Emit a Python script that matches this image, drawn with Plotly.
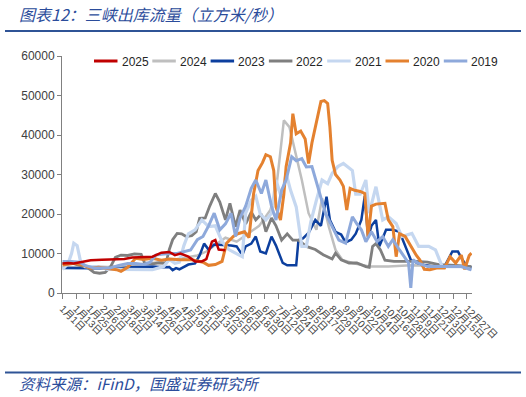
import plotly.graph_objects as go

# ---------------- data (day index 0 = 1月1日) ----------------
tick_days = [0, 12, 24, 36, 48, 60, 72, 84, 96, 108, 120, 132, 144, 156, 168, 180,
             192, 204, 216, 228, 240, 252, 264, 276, 288, 300, 312, 324, 336, 348, 360]
tick_labels = ["1月1日", "1月13日", "1月25日", "2月6日", "2月18日", "3月2日", "3月14日",
               "3月26日", "4月7日", "4月19日", "5月1日", "5月13日", "5月25日", "6月6日",
               "6月18日", "6月30日", "7月12日", "7月24日", "8月5日", "8月17日", "8月29日",
               "9月10日", "9月22日", "10月4日", "10月16日", "10月28日", "11月9日",
               "11月21日", "12月3日", "12月15日", "12月27日"]

days_2025 = [0, 5, 10, 18, 25, 35, 45, 55, 62, 70, 80, 88, 95, 100, 105, 112, 118, 124, 128, 133, 136, 139, 145]
vals_2025 = [7500, 7600, 7500, 7900, 8300, 8400, 8500, 8600, 9000, 9100, 9200, 10200, 10400, 9600, 10000, 9200,
             8000, 8000, 8600, 13000, 13400, 11000, 10800]

days_2024 = [0, 10, 20, 30, 40, 50, 60, 70, 80, 90, 100, 110, 120, 128, 135, 145, 155, 165, 175, 185, 190, 194,
             197, 202, 208, 213, 219, 226, 231, 237, 243, 249, 258, 273, 290, 310, 330, 350, 364]
vals_2024 = [6800, 6500, 6500, 6700, 6600, 6800, 7000, 7300, 7600, 8000, 8500, 9000, 9500, 10500, 12000, 14000,
             13000, 15000, 17000, 21000, 26000, 36000, 43700, 42000, 34500, 28600, 20200, 16000, 24000, 16800,
             10900, 8400, 7600, 6700, 6700, 7000, 6900, 6800, 6600]

days_2023 = [0, 10, 20, 30, 40, 50, 60, 70, 80, 90, 95, 98, 101, 104, 108, 112, 118, 122, 126, 130, 135, 140,
             145, 150, 155, 160, 163, 168, 172, 176, 181, 186, 190, 193, 196, 200, 205, 208, 210, 214, 219, 225,
             230, 235, 238, 243, 248, 252, 257, 261, 266, 269, 272, 275, 279, 282, 288, 294, 300, 305, 310, 316,
             323, 330, 340, 347, 352, 356, 360, 364]
vals_2023 = [6300, 6300, 6200, 6300, 6300, 6200, 6500, 6600, 6700, 6500, 6600, 5800, 6300, 6000, 6700, 7200,
             7500, 9500, 12500, 11000, 12300, 12200, 12200, 12000, 11800, 9600, 11800, 12500, 14300, 10500,
             10000, 14300, 12000, 10000, 7600, 7000, 7000, 7000, 13400, 13800, 15200, 18500, 17000, 24400,
             18500, 15500, 14800, 12800, 13500, 15000, 18500, 24500, 14000, 17000, 18500, 11800, 16000, 16000,
             15500, 12000, 8400, 7600, 7000, 6700, 6700, 10500, 10500, 8400, 6700, 6500]

days_2022 = [0, 8, 15, 22, 28, 33, 38, 43, 47, 52, 58, 64, 70, 73, 80, 86, 92, 95, 98, 102, 106, 110, 115, 119,
             122, 127, 131, 136, 140, 145, 149, 154, 158, 163, 168, 172, 177, 181, 186, 190, 195, 200, 205, 210,
             217, 225, 232, 240, 243, 248, 255, 262, 270, 273, 276, 279, 283, 287, 295, 305, 315, 325, 335, 350, 364]
vals_2022 = [7500, 7600, 7000, 6500, 5200, 5000, 5200, 6800, 9000, 9600, 9500, 9900, 9800, 7600, 7400, 7600,
             7500, 11000, 13500, 15100, 15000, 14300, 14500, 15500, 18900, 19000, 22000, 25200, 23000, 18500,
             22700, 16800, 21000, 17500, 20500, 18500, 20000, 15500, 19000, 17000, 13400, 15000, 13400, 13400,
             11800, 11000, 9700, 8600, 10100, 8400, 7600, 7600, 6700, 6500, 11800, 12500, 10900, 8300, 8000,
             8000, 8000, 7800, 7200, 7000, 6700]

days_2021 = [0, 5, 8, 10, 13, 16, 20, 25, 30, 35, 40, 50, 60, 70, 80, 85, 90, 95, 100, 104, 108, 112, 118, 124,
             130, 136, 142, 148, 154, 160, 163, 168, 172, 176, 181, 186, 190, 195, 199, 203, 208, 213, 217, 221,
             226, 231, 236, 240, 245, 250, 254, 258, 261, 265, 270, 273, 279, 285, 290, 297, 302, 311, 317, 326,
             332, 338, 345, 355, 364]
vals_2021 = [6000, 7500, 10000, 12600, 12000, 8000, 6700, 6800, 6700, 6400, 6000, 6000, 5900, 6000, 5900, 6300,
             6700, 8500, 7500, 7800, 12000, 15000, 16000, 18500, 16800, 17000, 13000, 11000, 10100, 9200, 20200,
             23500, 24500, 20000, 18500, 20200, 28600, 24000, 30300, 26000, 21800, 11800, 11800, 18000, 23500,
             28600, 27700, 30300, 32000, 32800, 31900, 31000, 25000, 25000, 28600, 20200, 26900, 18500, 19300,
             17600, 14300, 15100, 11800, 11800, 10900, 6700, 6700, 6700, 5900]

days_2020 = [0, 10, 18, 25, 32, 40, 48, 52, 58, 65, 72, 80, 88, 95, 105, 115, 125, 130, 136, 142, 146, 152, 156,
             162, 166, 170, 174, 178, 181, 185, 188, 190, 194, 197, 199, 203, 205, 208, 212, 216, 219, 222, 226,
             230, 233, 236, 238, 240, 243, 247, 250, 253, 256, 260, 265, 269, 272, 275, 279, 284, 287, 290, 294,
             297, 300, 305, 310, 315, 318, 322, 327, 333, 340, 345, 350, 355, 358, 362, 364]
vals_2020 = [7100, 7500, 7100, 6300, 6500, 6200, 5900, 5500, 6500, 8800, 8500, 8800, 8300, 8600, 8400, 8400,
             7800, 7000, 7200, 8000, 12600, 14300, 15000, 15500, 14000, 25000, 31000, 33000, 35000, 34500, 31000,
             21800, 18500, 25000, 32000, 38000, 45400, 40300, 41000, 39000, 32800, 38000, 43000, 48500, 48700,
             48000, 42000, 33600, 30000, 28600, 27000, 21000, 26500, 26000, 25700, 25200, 14300, 22000, 22500,
             22700, 22700, 18500, 16800, 9200, 15000, 14300, 11800, 9500, 8400, 6000, 5900, 6300, 6300, 9200,
             7600, 9600, 6000, 9500, 10100]

days_2019 = [0, 8, 15, 20, 28, 35, 42, 50, 58, 65, 72, 78, 83, 88, 95, 102, 108, 114, 120, 125, 130, 135, 140,
             145, 150, 154, 158, 163, 168, 172, 177, 181, 186, 190, 195, 199, 204, 208, 213, 217, 222, 228, 234,
             240, 246, 252, 258, 262, 266, 270, 275, 280, 285, 290, 294, 300, 305, 308, 310, 311, 312, 316, 325,
             340, 355, 364]
vals_2019 = [8000, 8000, 7800, 7000, 6300, 6300, 6300, 7000, 7500, 7500, 7200, 7800, 9600, 9800, 10000, 10000,
             10500, 10900, 13500, 14300, 17000, 20200, 16000, 17500, 20200, 14300, 19000, 22000, 26500, 28600,
             25200, 28600, 22000, 18500, 26000, 28600, 34500, 33500, 34000, 31900, 32000, 26000, 20200, 16800,
             13400, 12600, 19300, 17500, 16000, 13000, 15500, 13000, 14300, 11800, 13500, 10900, 9000, 7600,
             1300, 6000, 8400, 7600, 6700, 6700, 6700, 5900]

series = [
    ("2025", days_2025, vals_2025, "#C00000", 2.5),
    ("2024", days_2024, vals_2024, "#BFBFBF", 2.5),
    ("2023", days_2023, vals_2023, "#0C3F9E", 2.5),
    ("2022", days_2022, vals_2022, "#7F7F7F", 2.8),
    ("2021", days_2021, vals_2021, "#C5D7F0", 3.2),
    ("2020", days_2020, vals_2020, "#E4812F", 3.0),
    ("2019", days_2019, vals_2019, "#8EA9DB", 3.0),
]
draw_order = ["2024", "2023", "2022", "2021", "2020", "2019", "2025"]

# ---------------- geometry ----------------
W, H = 526, 397
L, R, T, B = 62, 472, 56, 293  # plot area in px


def px(x):
    return (x - L) / (R - L)


def py(y):
    return (B - y) / (B - T)


fig = go.Figure()
lookup = {s[0]: s for s in series}
for name in draw_order:
    n, d, v, c, w = lookup[name]
    fig.add_trace(go.Scatter(x=d, y=v, mode="lines", name=n, showlegend=False,
                             line=dict(color=c, width=w), hoverinfo="skip"))

axis_col = "#808080"
fig.update_layout(
    width=W, height=H,
    margin=dict(l=L, r=W - R, t=T, b=H - B, autoexpand=False),
    paper_bgcolor="white", plot_bgcolor="white",
    font=dict(family="Liberation Sans, Arial, Noto Sans CJK SC", color="#404040"),
    xaxis=dict(range=[-0.5, 364.5], tickmode="array", tickvals=tick_days, ticktext=tick_labels,
               tickangle=45, tickfont=dict(size=10, color="#404040",
                                           family="Liberation Sans, Noto Sans CJK SC"),
               showline=True, linecolor=axis_col, linewidth=1, ticks="outside",
               tickcolor=axis_col, ticklen=5, showgrid=False, zeroline=False, automargin=False),
    yaxis=dict(range=[0, 60000], dtick=10000, tickformat="d",
               tickfont=dict(size=12, color="#404040"),
               showline=True, linecolor=axis_col, linewidth=1, ticks="outside",
               tickcolor=axis_col, ticklen=4, showgrid=False, zeroline=False, automargin=False),
)

shapes = []
annos = []
# manual legend
for i, (n, d, v, c, w) in enumerate(series):
    x0 = 94 + i * 58.3
    shapes.append(dict(type="line", xref="paper", yref="paper", x0=px(x0), x1=px(x0 + 23.5),
                       y0=py(61), y1=py(61), line=dict(color=c, width=3)))
    annos.append(dict(xref="paper", yref="paper", x=px(x0 + 25.5), y=py(61.5), text=n,
                      showarrow=False, xanchor="left", yanchor="middle",
                      font=dict(size=12, color="#262626", family="Liberation Sans, Arial")))

blue = "#2F5496"
shapes.append(dict(type="line", xref="paper", yref="paper", x0=px(5), x1=px(521), y0=py(31), y1=py(31),
                   line=dict(color=blue, width=2)))
shapes.append(dict(type="line", xref="paper", yref="paper", x0=px(5), x1=px(521), y0=py(372.5), y1=py(372.5),
                   line=dict(color=blue, width=2)))
annos.append(dict(xref="paper", yref="paper", x=px(17), y=py(14), text="<i>图表12：三峡出库流量（立方米/秒）</i>",
                  showarrow=False, xanchor="left", yanchor="middle",
                  font=dict(size=16, color="#2B4C9B", family="Noto Sans CJK SC")))
annos.append(dict(xref="paper", yref="paper", x=px(17), y=py(383), text="<i>资料来源：iFinD，国盛证券研究所</i>",
                  showarrow=False, xanchor="left", yanchor="middle",
                  font=dict(size=15.5, color="#2B4C9B", family="Noto Sans CJK SC")))

fig.update_layout(shapes=shapes, annotations=annos)
fig.write_html("out.html", config={"displayModeBar": False},
               post_script="document.body.style.margin='0';document.body.style.overflow='hidden';")
